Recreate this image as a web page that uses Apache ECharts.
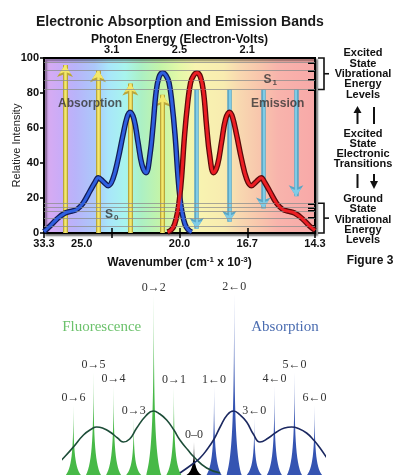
<!DOCTYPE html>
<html><head><meta charset="utf-8">
<script src="https://cdn.jsdelivr.net/npm/echarts@6/dist/echarts.min.js"></script>
<style>html,body{margin:0;padding:0;background:#fff}#c{width:402px;height:475px}</style>
</head><body><div id="c"></div>
<script>
// ---------- Top chart: x = wavelength (nm), y = relative intensity ----------
const absorptionX = [300,308.9,319.2,331,341.3,348.7,357.6,367.9,375.3,380.1,387.1,394.9,401.8,409.2,416.6,422.5,426.9,432.8,438.7,444.6,450.6,456.5,460.9,465.3,469.7,475.2,480.1,484.5,488.9,493.4,497.8,500.7,503.7,508.1,512.5,518];
const absorptionY = [0.8,4,8,11.4,12.5,13.5,17,24,29,31.6,29.5,27,31,42,56,66,69,65,52,39,34.5,45,61,80,89,91.6,90,86,74,56,32,20,12,5,2,0.5];
const emissionX = [482.4,488.3,492.8,497.2,500.1,503.1,507.5,512,516.4,520.8,525.7,531.1,535.6,540,544.4,550.3,556.2,562.1,568,573.9,578.4,584.3,591.7,599,606,613.8,620.7,625.6,633,643.3,652.2,659.6,669.9,681.7,692,700];
const emissionY = [0.5,2,5,12,20,32,56,74,86,90,91.6,89,80,61,45,34.5,39,52,65,69,66,56,42,31,27,29.5,31.6,29,24,17,13.5,12.5,11.4,8,4,1.5];
const absorptionArrowX = [331,379.7,427.4,475.2];
const absorptionArrowTop = [96,93,85.5,79];
const emissionArrowX = [525.4,573.5,623.7,672];
const emissionArrowBottom = [2.5,6.5,14,21];
const emissionArrowStart = 82;
const s1Levels = [97.5,93,87.5,82];
const s0Levels = [17,14.7,12.7,8.7,4];
const wavenumberLabels = {300:'33.3',400:'25.0',500:'20.0',600:'16.7',700:'14.3'};
const photonEnergyLabels = {400:'3.1',500:'2.5',600:'2.1'};
const plotTexts = [[368,74,'Absorption'],[645,74,'Emission'],[634,87.5,'S1'],[400,10.3,'S0']];

// ---------- Bottom chart: vibronic transitions ----------
const transitionLabels = ['0→6','0→5','0→4','0→3','0→2','0→1','0–0','1←0','2←0','3←0','4←0','5←0','6←0'];
const transitionKind = ['F','F','F','F','F','F','0','A','A','A','A','A','A'];
const transitionIntensity = [70,103,89,57,180,88,33,88,181,57,89,103,70];
const fluorescenceEnvelope = [[-6.83,10],[-6.4,19],[-6,28],[-5.5,40],[-5.1,46],[-4.84,48],[-4.5,46.5],[-4.18,43],[-3.8,37],[-3.52,33],[-3.2,36],[-2.85,47],[-2.4,59],[-2.02,64],[-1.7,61],[-1.36,55],[-1,45],[-0.7,35],[-0.3,25],[0,18],[0.63,7],[1.3,2]];
const absorptionEnvelope = [[-0.7,2],[0,12],[0.3,17],[0.63,25],[1,36],[1.3,48],[1.65,60],[1.96,64],[2.3,60],[2.62,53],[2.95,41],[3.28,33],[3.7,37],[4.11,43],[4.5,47],[4.86,48],[5.2,46.5],[5.6,42],[5.95,35],[6.27,27],[6.77,12]];

const SANS = '"Liberation Sans", Arial, sans-serif';
const SERIF = '"Liberation Serif", "Times New Roman", serif';

const zip = (xs, ys) => xs.map((x, i) => [x, ys[i]]);
const kindColor = {F:'#47b947', A:'#3554b2', '0':'#000000'};

const chart = echarts.init(document.getElementById('c'));

const spectrum = new echarts.graphic.LinearGradient(0, 0, 1, 0, [
  {offset:0.00, color:'#dcaaf0'}, {offset:0.07, color:'#c8acf8'}, {offset:0.12, color:'#b8b4fa'},
  {offset:0.19, color:'#acc8fa'}, {offset:0.24, color:'#a8e6fa'}, {offset:0.30, color:'#a8f4ee'},
  {offset:0.36, color:'#acf0c4'}, {offset:0.43, color:'#c4f4a8'}, {offset:0.50, color:'#e4f8a8'},
  {offset:0.56, color:'#f8f4b0'}, {offset:0.66, color:'#f8ecb0'}, {offset:0.72, color:'#f8d8b0'},
  {offset:0.80, color:'#f8c4ac'}, {offset:0.86, color:'#f8b4ac'}, {offset:1.00, color:'#f8a8a8'}
]);

const boldAxisText = {fontSize:11, fontWeight:'bold', color:'#111', fontFamily:SANS};

const option = {
  animation:false,
  backgroundColor:'#fff',
  title:{text:'Electronic Absorption and Emission Bands', left:31, top:10,
    textStyle:{fontSize:14, fontWeight:'bold', color:'#1a1a1a', fontFamily:SANS}},
  grid:[
    {left:44, top:58, width:271, height:175, show:true, backgroundColor:spectrum, outerBoundsMode:'none', containLabel:false,
     borderColor:'#000', borderWidth:2, shadowColor:'rgba(0,0,0,0.45)', shadowBlur:2, shadowOffsetX:2, shadowOffsetY:2},
    {left:63.35, top:275, width:261.3, height:200, outerBoundsMode:'none', containLabel:false}
  ],
  xAxis:[
    {gridIndex:0, type:'value', min:300, max:700, interval:100, position:'bottom',
     axisLine:{show:true, lineStyle:{color:'#000', width:2}},
     axisTick:{show:true, inside:true, length:5, lineStyle:{color:'#000', width:1.5}},
     splitLine:{show:false},
     axisLabel:Object.assign({margin:5, formatter:v => v === 400 ? '{off|' + wavenumberLabels[v] + '}' : (wavenumberLabels[v] || ''),
       rich:{off:{padding:[0,60,0,0], fontSize:11, fontWeight:'bold', color:'#111', fontFamily:SANS}}}, boldAxisText),
     name:'Wavenumber (cm{sup|-1} x 10{sup|-3})', nameLocation:'middle', nameGap:23, nameMoveOverlap:false,
     nameTextStyle:{fontSize:12, fontWeight:'bold', color:'#111', fontFamily:SANS,
       rich:{sup:{fontSize:8, fontWeight:'bold', color:'#111', verticalAlign:'top', padding:[0,0,6,0], fontFamily:SANS}}}},
    {gridIndex:0, type:'value', min:300, max:700, interval:100, position:'top',
     axisLine:{show:true, lineStyle:{color:'#000', width:2}},
     axisTick:{show:true, inside:true, length:5, lineStyle:{color:'#000', width:1.5}},
     splitLine:{show:false},
     axisLabel:Object.assign({margin:3, formatter:v => photonEnergyLabels[v] || ''}, boldAxisText),
     name:'Photon Energy (Electron-Volts)', nameLocation:'middle', nameGap:12, nameMoveOverlap:false,
     nameTextStyle:{fontSize:12, fontWeight:'bold', color:'#111', fontFamily:SANS}},
    {gridIndex:1, type:'category', data:transitionLabels, show:false},
    {gridIndex:1, type:'value', min:-6.5, max:6.5, show:false}
  ],
  yAxis:[
    {gridIndex:0, type:'value', min:0, max:100, interval:20,
     axisLine:{show:true, lineStyle:{color:'#000', width:2}},
     axisTick:{show:true, length:4, lineStyle:{color:'#000', width:1.5}},
     splitLine:{show:false},
     axisLabel:Object.assign({margin:5}, boldAxisText),
     name:'Relative Intensity', nameLocation:'middle', nameGap:22, nameMoveOverlap:false,
     nameTextStyle:{fontSize:11, color:'#222', fontFamily:SANS}},
    {gridIndex:0, type:'value', min:0, max:100, position:'right',
     axisLine:{show:true, lineStyle:{color:'#000', width:2}},
     axisTick:{show:true, inside:true, length:7, customValues:s1Levels.concat(s0Levels), lineStyle:{color:'#000', width:2}},
     axisLabel:{show:false}, splitLine:{show:false}},
    {gridIndex:1, type:'value', min:0, max:200, show:false}
  ],
  series:[
    // level lines
    {type:'line', xAxisIndex:0, yAxisIndex:0, data:[], silent:true,
     markLine:{silent:true, symbol:'none', label:{show:false},
       lineStyle:{color:'#8c8c8c', width:1, type:'solid', opacity:0.75},
       data:s1Levels.concat(s0Levels).map(v => ({yAxis:v}))}},
    // absorption arrows (yellow, pointing up)
    {type:'lines', coordinateSystem:'cartesian2d', xAxisIndex:0, yAxisIndex:0, z:2, silent:true,
     symbol:['none','arrow'], symbolSize:12,
     lineStyle:{color:'#b9a63c', width:5, opacity:1, curveness:0},
     data:absorptionArrowX.map((x, i) => ({coords:[[x,0],[x,absorptionArrowTop[i]]]}))},
    {type:'lines', coordinateSystem:'cartesian2d', xAxisIndex:0, yAxisIndex:0, z:2, silent:true,
     symbol:['none','arrow'], symbolSize:9,
     lineStyle:{color:'#f4e86c', width:2.5, opacity:1, curveness:0},
     data:absorptionArrowX.map((x, i) => ({coords:[[x,0],[x,absorptionArrowTop[i]]]}))},
    // emission arrows (light blue, pointing down)
    {type:'lines', coordinateSystem:'cartesian2d', xAxisIndex:0, yAxisIndex:0, z:2, silent:true,
     symbol:['none','arrow'], symbolSize:11,
     lineStyle:{color:'#5aa6c4', width:4.5, opacity:1, curveness:0},
     data:emissionArrowX.map((x, i) => ({coords:[[x,emissionArrowStart],[x,emissionArrowBottom[i]]]}))},
    {type:'lines', coordinateSystem:'cartesian2d', xAxisIndex:0, yAxisIndex:0, z:2, silent:true,
     symbol:['none','arrow'], symbolSize:8,
     lineStyle:{color:'#80cce6', width:2.2, opacity:1, curveness:0},
     data:emissionArrowX.map((x, i) => ({coords:[[x,emissionArrowStart],[x,emissionArrowBottom[i]]]}))},
    // absorption curve
    {type:'line', xAxisIndex:0, yAxisIndex:0, z:4, data:zip(absorptionX, absorptionY), smooth:0.4, symbol:'none',
     lineStyle:{color:'#121c55', width:5.5}},
    {type:'line', xAxisIndex:0, yAxisIndex:0, z:5, data:zip(absorptionX, absorptionY), smooth:0.4, symbol:'none',
     lineStyle:{color:'#2f5fe0', width:3}},
    // emission curve
    {type:'line', xAxisIndex:0, yAxisIndex:0, z:4, data:zip(emissionX, emissionY), smooth:0.4, symbol:'none',
     lineStyle:{color:'#5a0a0a', width:5.5}},
    {type:'line', xAxisIndex:0, yAxisIndex:0, z:5, data:zip(emissionX, emissionY), smooth:0.4, symbol:'none',
     lineStyle:{color:'#ec1e24', width:3}},
    // texts in plot
    {type:'scatter', xAxisIndex:0, yAxisIndex:0, z:6, silent:true, symbolSize:0, data:plotTexts,
     label:{show:true, position:'inside', color:'#333', fontSize:12, fontWeight:'bold', fontFamily:SANS,
       formatter:p => {const t = p.data[2]; return t.length === 2 ? '{s|' + t[0] + '}{sub|' + t[1] + '}' : t;},
       rich:{s:{fontSize:12, fontWeight:'bold', color:'#333', fontFamily:SANS},
             sub:{fontSize:8, fontWeight:'bold', color:'#333', verticalAlign:'bottom', padding:[6,0,0,1], fontFamily:SANS}}}},
    // bottom: vibronic spikes
    {type:'pictorialBar', xAxisIndex:2, yAxisIndex:2, z:2,
     symbol:'path://M50,0 C51,58 56,88 100,100 L0,100 C44,88 49,58 50,0 Z',
     symbolSize:[15,'100%'], symbolPosition:'start',
     data:transitionIntensity.map((v, i) => ({value:v, itemStyle:{color:kindColor[transitionKind[i]]}})),
     label:{show:true, position:'top', distance:1, color:'#333', fontSize:12, fontFamily:SERIF,
       formatter:p => transitionLabels[p.dataIndex]}},
    // envelopes
    {type:'line', xAxisIndex:3, yAxisIndex:2, z:3, clip:false, smooth:0.5, symbol:'none',
     data:fluorescenceEnvelope, lineStyle:{color:'#1d4d38', width:1.6}},
    {type:'line', xAxisIndex:3, yAxisIndex:2, z:3, clip:false, smooth:0.5, symbol:'none',
     data:absorptionEnvelope, lineStyle:{color:'#1b2860', width:1.6}}
  ]
};
chart.setOption(option);

// ---------- annotations (brackets, right-hand text) ----------
const py = v => chart.convertToPixel({yAxisIndex:0}, v);
const rightX = chart.convertToPixel({xAxisIndex:0}, 700);
const bx = rightX + 9, bl = rightX + 3;
const topB = [py(100), py(s1Levels[s1Levels.length - 1])];
const botB = [py(s0Levels[0]), py(0)];
const txt = (text, x, y, size) => ({type:'text', silent:true, style:{text, x, y, textAlign:'center', textVerticalAlign:'middle',
  font:'bold ' + (size || 11) + 'px ' + SANS, fill:'#111', lineHeight:10.3}});
const stroke = {stroke:'#111', lineWidth:1.6, fill:null};
chart.setOption({graphic:[
  {type:'polyline', silent:true, shape:{points:[[bl,topB[0]],[bx,topB[0]],[bx,topB[1]],[bl,topB[1]]]}, style:stroke},
  {type:'line', silent:true, shape:{x1:bx, y1:(topB[0]+topB[1])/2, x2:bx+5, y2:(topB[0]+topB[1])/2}, style:stroke},
  {type:'polyline', silent:true, shape:{points:[[bl,botB[0]],[bx,botB[0]],[bx,botB[1]],[bl,botB[1]]]}, style:stroke},
  {type:'line', silent:true, shape:{x1:bx, y1:(botB[0]+botB[1])/2, x2:bx+5, y2:(botB[0]+botB[1])/2}, style:stroke},
  txt('Excited\nState\nVibrational\nEnergy\nLevels', 363, 74),
  {type:'line', silent:true, shape:{x1:357.5, y1:112, x2:357.5, y2:124}, style:{stroke:'#111', lineWidth:2}},
  {type:'polygon', silent:true, shape:{points:[[353.5,113],[361.5,113],[357.5,106]]}, style:{fill:'#111'}},
  {type:'line', silent:true, shape:{x1:374, y1:107, x2:374, y2:124}, style:{stroke:'#111', lineWidth:2}},
  txt('Excited\nState\nElectronic\nTransitions', 363, 149),
  {type:'line', silent:true, shape:{x1:357.5, y1:174, x2:357.5, y2:188}, style:{stroke:'#111', lineWidth:2}},
  {type:'line', silent:true, shape:{x1:374, y1:174, x2:374, y2:182}, style:{stroke:'#111', lineWidth:2}},
  {type:'polygon', silent:true, shape:{points:[[370,181],[378,181],[374,189]]}, style:{fill:'#111'}},
  txt('Ground\nState\nVibrational\nEnergy\nLevels', 363, 219.5),
  txt('Figure 3', 370, 261, 12),
  {type:'text', silent:true, style:{text:'Fluorescence', x:101.7, y:326.7, textAlign:'center', textVerticalAlign:'middle',
    font:'15px ' + SERIF, fill:'#6cc26c'}},
  {type:'text', silent:true, style:{text:'Absorption', x:285, y:326.7, textAlign:'center', textVerticalAlign:'middle',
    font:'15px ' + SERIF, fill:'#4a6cb0'}}
]});
</script></body></html>
